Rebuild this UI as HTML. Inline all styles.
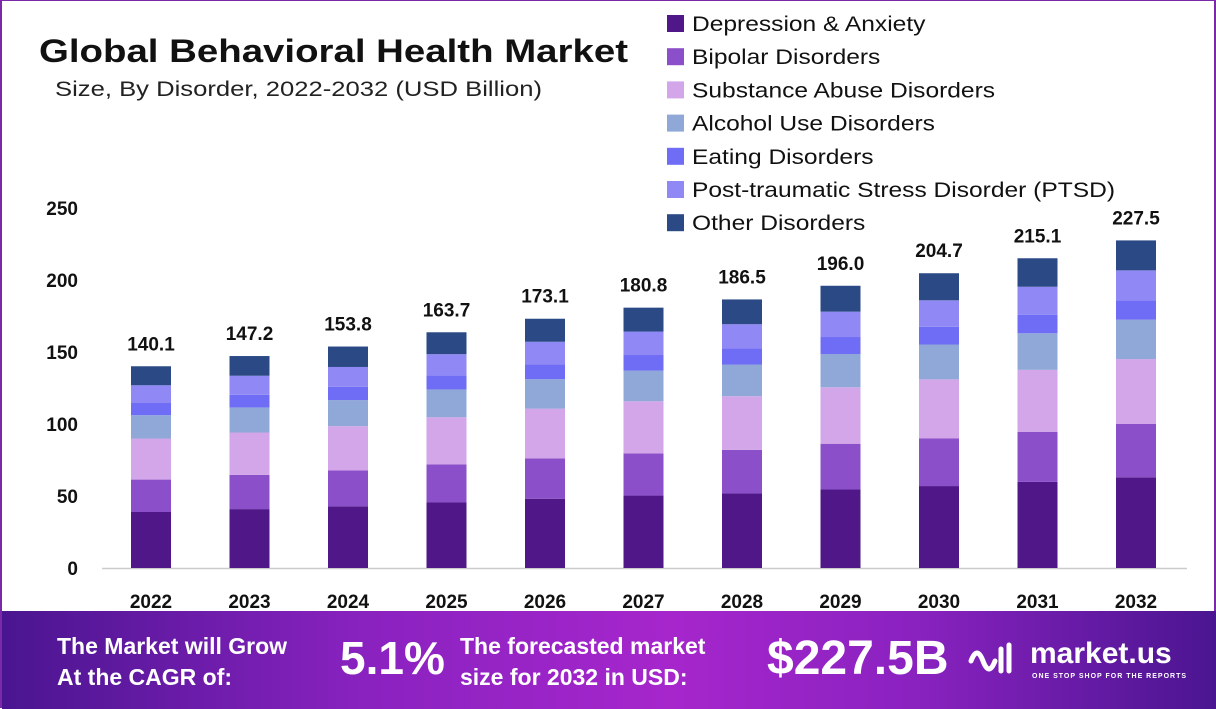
<!DOCTYPE html>
<html><head><meta charset="utf-8"><style>
body{margin:0;width:1216px;height:708px;overflow:hidden;background:#fff;font-family:"Liberation Sans",sans-serif}
#wrap{position:relative;width:1216px;height:708px;box-sizing:border-box;border-left:2px solid #7a2aa8;border-right:2px solid #7a2aa8;border-top:1px solid #7a2aa8}
.t{position:absolute;white-space:nowrap;transform-origin:0 0}
#banner{position:absolute;left:0;top:610px;width:1216px;height:98px;background:linear-gradient(90deg,#4a1590 0%,#8a22c0 30%,#a626cc 55%,#8a22c0 75%,#4a1590 100%);color:#fff;font-weight:bold}
</style></head><body>
<div id="wrap">
<div class="t" style="left:37px;top:32px;font-size:32px;font-weight:bold;color:#111;transform:scaleX(1.2)">Global Behavioral Health Market</div>
<div class="t" style="left:53px;top:77px;font-size:21px;color:#222;transform:scaleX(1.22)">Size, By Disorder, 2022-2032 (USD Billion)</div>
<svg id="chart" width="1216" height="610" style="position:absolute;left:0;top:0"></svg>
<div id="banner">
<div class="t" style="left:55px;top:20px;font-size:23px;line-height:31px">The Market will Grow<br>At the CAGR of:</div>
<div class="t" style="left:338px;top:20px;font-size:46px">5.1%</div>
<div class="t" style="left:458px;top:20px;font-size:23px;line-height:31px">The forecasted market<br>size for 2032 in USD:</div>
<div class="t" style="left:765px;top:20px;font-size:48px">$227.5B</div>
<svg style="position:absolute;left:965px;top:30px" width="50" height="36"><path d="M4 20 Q10 4 16 20 T28 20 M34 8 V30 M42 4 V30" stroke="#fff" stroke-width="5" fill="none" stroke-linecap="round"/></svg>
<div class="t" style="left:1028px;top:26px;font-size:30px">market.us</div>
<div class="t" style="left:1030px;top:62px;font-size:7px;letter-spacing:1px">ONE STOP SHOP FOR THE REPORTS</div>
</div>
</div>
<script>
const years=["2022","2023","2024","2025","2026","2027","2028","2029","2030","2031","2032"];
const totals=[140.1,147.2,153.8,163.7,173.1,180.8,186.5,196.0,204.7,215.1,227.5];
const depression=[38.9,40.9,42.8,45.5,48.1,50.3,51.8,54.5,56.9,59.8,63.0];
const bipolar=[22.5,23.8,24.9,26.5,28.0,29.3,30.2,31.8,33.2,34.8,37.0];
const substance=[28.5,29.4,30.8,32.7,34.6,36.2,37.3,39.2,40.9,43.0,45.1];
const alcohol=[16.2,17.4,18.1,19.3,20.4,21.3,22.0,23.1,24.2,25.4,27.4];
const eating=[8.5,8.8,9.2,9.8,10.4,10.8,11.2,11.8,12.3,12.9,13.4];
const ptsd=[12.3,13.2,13.8,14.7,15.6,16.3,16.8,17.6,18.4,19.4,20.8];
const other=[13.2,13.7,14.2,15.2,16.0,16.6,17.2,18.0,18.8,19.8,20.8];
const seriesNames=["Depression & Anxiety","Bipolar Disorders","Substance Abuse Disorders","Alcohol Use Disorders","Eating Disorders","Post-traumatic Stress Disorder (PTSD)","Other Disorders"];
const yTicks=[0,50,100,150,200,250];
const series=[depression,bipolar,substance,alcohol,eating,ptsd,other];
const colors=["#4f1787","#8b4fc9","#d2a6e8","#8fa8d8","#6f6cf5","#8f88f5","#2b4a85"];
const keys=["depression","bipolar","substance","alcohol","eating","ptsd","other"];
const svg=document.getElementById('chart');const NS="http://www.w3.org/2000/svg";
const y0=567,pxPer=1.44;const yS=v=>y0-v*pxPer;const xS=i=>149+i*98.5;const bw=40;
function mk(t,a){const e=document.createElementNS(NS,t);for(const k in a)e.setAttribute(k,a[k]);svg.appendChild(e);return e;}
const ax=mk('line',{x1:100,x2:1185,y1:y0+0.5,y2:y0+0.5,stroke:'#ccc','stroke-width':1.5});


yTicks.forEach(v=>{const t=mk('text',{x:76,y:yS(v)+7,'text-anchor':'end','font-size':19,'font-weight':'bold',fill:'#111'});t.textContent=v;

});
years.forEach((yr,i)=>{let cum=0;
series.forEach((s,k)=>{const v=k===6?totals[i]-cum:s[i];const r=mk('rect',{x:xS(i)-bw/2,y:yS(cum+v),width:bw,height:v*pxPer,fill:colors[k]});cum+=v;

});
const l=mk('text',{x:xS(i),y:yS(totals[i])-16,'text-anchor':'middle','font-size':19,'font-weight':'bold',fill:'#111'});l.textContent=totals[i].toFixed(1);


const xl=mk('text',{x:xS(i),y:607,'text-anchor':'middle','font-size':19,'font-weight':'bold',fill:'#111'});xl.textContent=yr;

});
seriesNames.forEach((n,k)=>{const yy=22+k*33.2;
const sq=mk('rect',{x:665,y:yy-8,width:17,height:17,fill:colors[k]});


const t=mk('text',{x:690,y:yy+8,'font-size':21,fill:'#111',transform:'translate(690 0) scale(1.17 1) translate(-690 0)'});t.textContent=n;

});
</script>
</body></html>
